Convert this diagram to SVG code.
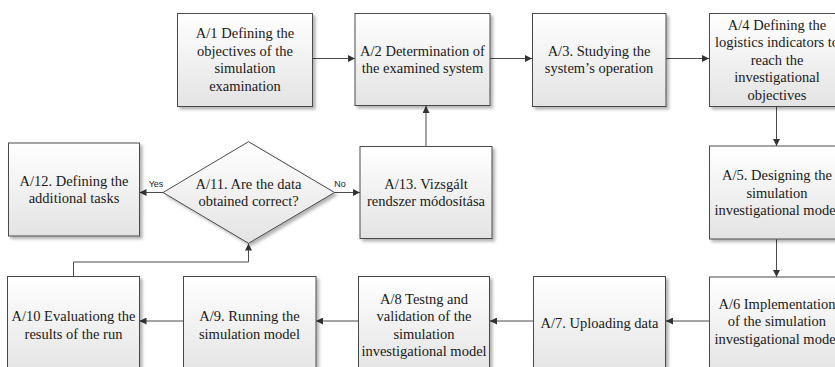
<svg xmlns="http://www.w3.org/2000/svg" width="835" height="367" viewBox="0 0 835 367">
<style>
.box{fill:url(#g);stroke:#4a4a4a;stroke-width:1;filter:url(#sh)}
.t{font-family:'Liberation Serif','DejaVu Serif',serif;font-size:14.5px;fill:#1a1a1a;text-anchor:middle}
.lbl{font-family:'Liberation Sans','DejaVu Sans',sans-serif;font-size:9px;fill:#1a1a1a;text-anchor:middle}
.c{fill:none;stroke:#4a4a4a;stroke-width:1;marker-end:url(#ah)}
</style>
<defs>
<linearGradient id="g" x1="0" y1="0" x2="0" y2="1">
<stop offset="0" stop-color="#ffffff"/>
<stop offset="1" stop-color="#e3e3e3"/>
</linearGradient>
<filter id="sh" x="-10%" y="-10%" width="125%" height="125%">
<feDropShadow dx="2.5" dy="2.5" stdDeviation="1.5" flood-color="#000" flood-opacity="0.3"/>
</filter>
<marker id="ah" viewBox="0 0 10 10" refX="10" refY="5" markerWidth="9" markerHeight="7" markerUnits="userSpaceOnUse" orient="auto">
<path d="M0,0 L10,5 L0,10 z" fill="#333"/>
</marker>
</defs>
<rect width="835" height="367" fill="#fff"/>

<g id="connectors">
<path class="c" d="M312.5,58.5 H355"/>
<path class="c" d="M490,58.5 H532"/>
<path class="c" d="M666,58.5 H709"/>
<path class="c" d="M776.5,106.5 V146"/>
<path class="c" d="M776.5,239 V277"/>
<path class="c" d="M709,321 H666"/>
<path class="c" d="M533,321 H490"/>
<path class="c" d="M358,321 H316"/>
<path class="c" d="M183,321 H139.5"/>
<path class="c" d="M73.5,277 V262 H248.5 V243.5"/>
<path class="c" d="M163,192.5 H139.5"/>
<path class="c" d="M334.5,192.5 H360"/>
<path class="c" d="M426,146.5 V106"/>
<text class="lbl" x="156" y="187">Yes</text>
<text class="lbl" x="340" y="187">No</text>
</g>

<g id="A1">
<rect class="box" x="177.5" y="13.5" width="135" height="93"/>
<text class="t" x="245" y="38.25">A/1 Defining the</text>
<text class="t" x="245" y="55.75">objectives of the</text>
<text class="t" x="245" y="73.25">simulation</text>
<text class="t" x="245" y="90.75">examination</text>
</g>
<g id="A2">
<rect class="box" x="355" y="13.5" width="135" height="92"/>
<text class="t" x="422.5" y="55.75">A/2 Determination of</text>
<text class="t" x="422.5" y="73.25">the examined system</text>
</g>
<g id="A3">
<rect class="box" x="532.5" y="13.5" width="133.5" height="93"/>
<text class="t" x="599" y="55.75">A/3. Studying the</text>
<text class="t" x="599" y="73.25">system’s operation</text>
</g>
<g id="A4">
<rect class="box" x="709.5" y="13.5" width="135" height="93"/>
<text class="t" x="777" y="29.5">A/4 Defining the</text>
<text class="t" x="777" y="47">logistics indicators to</text>
<text class="t" x="777" y="64.5">reach the</text>
<text class="t" x="777" y="82">investigational</text>
<text class="t" x="777" y="99.5">objectives</text>
</g>
<g id="A5">
<rect class="box" x="709.5" y="146" width="135" height="93"/>
<text class="t" x="777" y="180">A/5. Designing the</text>
<text class="t" x="777" y="197.5">simulation</text>
<text class="t" x="777" y="215">investigational model</text>
</g>
<g id="A6">
<rect class="box" x="709.5" y="277" width="135" height="100"/>
<text class="t" x="777" y="308.5">A/6 Implementation</text>
<text class="t" x="777" y="326">of the simulation</text>
<text class="t" x="777" y="343.5">investigational model</text>
</g>
<g id="A7">
<rect class="box" x="533.5" y="276.5" width="132" height="100"/>
<text class="t" x="599.5" y="328">A/7. Uploading data</text>
</g>
<g id="A8">
<rect class="box" x="358.5" y="276.5" width="131" height="100"/>
<text class="t" x="424" y="303.75">A/8 Testng and</text>
<text class="t" x="424" y="321.25">validation of the</text>
<text class="t" x="424" y="338.75">simulation</text>
<text class="t" x="424" y="356.25">investigational model</text>
</g>
<g id="A9">
<rect class="box" x="183.5" y="276.5" width="132.5" height="100"/>
<text class="t" x="249.5" y="321.25">A/9. Running the</text>
<text class="t" x="249.5" y="338.75">simulation model</text>
</g>
<g id="A10">
<rect class="box" x="7.5" y="276.5" width="132" height="100"/>
<text class="t" x="73.5" y="321.25">A/10 Evaluationg the</text>
<text class="t" x="73.5" y="338.75">results of the run</text>
</g>
<g id="A11">
<polygon class="box" points="248.5,141.7 334.5,192.5 248.5,243.3 163,192.5"/>
<text class="t" x="248.5" y="188.75">A/11. Are the data</text>
<text class="t" x="248.5" y="206.25">obtained correct?</text>
</g>
<g id="A12">
<rect class="box" x="8.5" y="143" width="131" height="93"/>
<text class="t" x="74" y="185.75">A/12. Defining the</text>
<text class="t" x="74" y="203.25">additional tasks</text>
</g>
<g id="A13">
<rect class="box" x="360" y="146.5" width="132" height="92"/>
<text class="t" x="426" y="188.75">A/13. Vizsgált</text>
<text class="t" x="426" y="206.25">rendszer módosítása</text>
</g>
</svg>
